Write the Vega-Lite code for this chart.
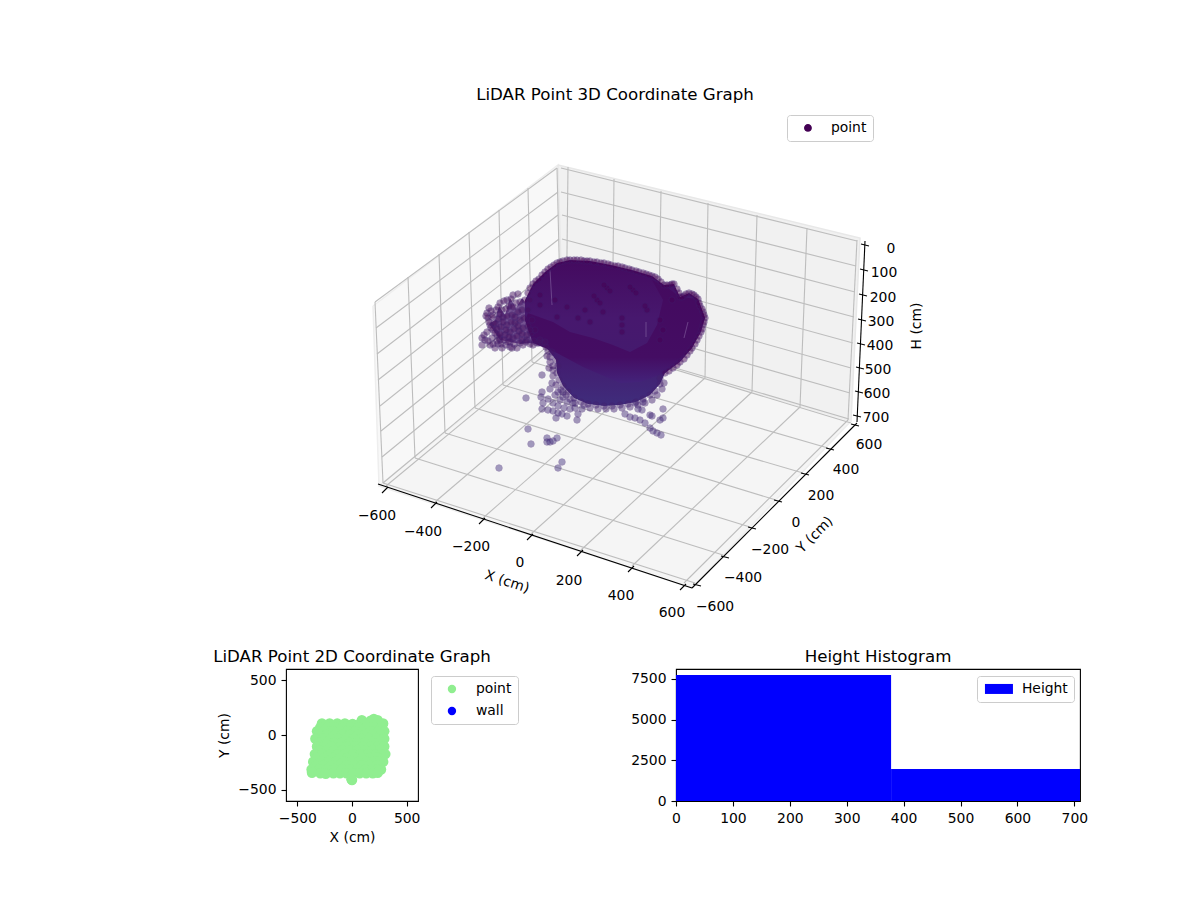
{
  "$schema": "https://vega.github.io/schema/vega-lite/v6.json",
  "padding": {"left": 212, "top": 80, "right": 0, "bottom": 0},
  "background": "white",
  "bounds": "flush",
  "spacing": 29,
  "config": {
    "font": "DejaVu Sans",
    "view": {"stroke": "black", "strokeWidth": 1.1},
    "axis": {"domain": false, "grid": false, "tickColor": "black", "tickSize": 5, "tickWidth": 1.1, "labelColor": "black", "labelFontSize": 13.9, "labelPadding": 5, "labelFlush": false, "titleFontSize": 13.9, "titleFontWeight": "normal", "titleColor": "black", "titlePadding": 6, "labelExpr": "replace(datum.label, '-', '−')"},
    "title": {"fontSize": 16.67, "fontWeight": "normal", "color": "black", "anchor": "middle", "offset": 3},
    "legend": {"labelFontSize": 13.9, "labelColor": "black", "strokeColor": "#cccccc", "fillColor": "white", "cornerRadius": 3, "padding": 6}
  },
  "datasets": {
    "paneLeft": [{"i":0,"u":373,"v":306},{"i":1,"u":558,"v":165},{"i":2,"u":563,"v":336},{"i":3,"u":379,"v":486},{"i":4,"u":373,"v":306}],
    "paneBack": [{"i":0,"u":558,"v":165},{"i":1,"u":860,"v":238},{"i":2,"u":851,"v":421},{"i":3,"u":563,"v":336},{"i":4,"u":558,"v":165}],
    "paneFloor": [{"i":0,"u":379,"v":486},{"i":1,"u":563,"v":336},{"i":2,"u":851,"v":421},{"i":3,"u":692,"v":588},{"i":4,"u":379,"v":486}],
    "grid": [
      {"u":375,"v":302,"u2":383,"v2":483},{"u":408,"v":277,"u2":415,"v2":458},{"u":439,"v":254,"u2":445,"v2":433},{"u":469,"v":232,"u2":475,"v2":408},{"u":499,"v":210,"u2":503,"v2":385},{"u":528,"v":188,"u2":532,"v2":362},{"u":557,"v":168,"u2":561,"v2":335},
      {"u":375,"v":302,"u2":557,"v2":168},{"u":376,"v":328,"u2":558,"v2":192},{"u":377,"v":354,"u2":558,"v2":215},{"u":378,"v":380,"u2":559,"v2":239},{"u":380,"v":406,"u2":559,"v2":263},{"u":381,"v":431,"u2":560,"v2":287},{"u":382,"v":457,"u2":560,"v2":311},{"u":383,"v":483,"u2":561,"v2":335},
      {"u":568,"v":167,"u2":566,"v2":337},{"u":614,"v":179,"u2":612,"v2":351},{"u":661,"v":191,"u2":658,"v2":365},{"u":708,"v":203,"u2":705,"v2":378},{"u":757,"v":215,"u2":752,"v2":392},{"u":807,"v":228,"u2":800,"v2":407},{"u":857,"v":240,"u2":848,"v2":420},
      {"u":561,"v":168,"u2":857,"v2":241},{"u":561,"v":192,"u2":856,"v2":266},{"u":562,"v":215,"u2":855,"v2":292},{"u":562,"v":239,"u2":854,"v2":317},{"u":562,"v":263,"u2":853,"v2":343},{"u":563,"v":287,"u2":851,"v2":368},{"u":563,"v":311,"u2":850,"v2":393},{"u":563,"v":335,"u2":849,"v2":419},
      {"u":386,"v":486,"u2":566,"v2":337},{"u":435,"v":502,"u2":612,"v2":351},{"u":483,"v":518,"u2":658,"v2":365},{"u":531,"v":534,"u2":705,"v2":378},{"u":581,"v":550,"u2":752,"v2":392},{"u":632,"v":566,"u2":800,"v2":407},{"u":684,"v":583,"u2":848,"v2":420},
      {"u":383,"v":483,"u2":695,"v2":583},{"u":415,"v":458,"u2":723,"v2":555},{"u":445,"v":433,"u2":750,"v2":527},{"u":475,"v":408,"u2":776,"v2":500},{"u":503,"v":385,"u2":803,"v2":473},{"u":532,"v":362,"u2":828,"v2":448},{"u":561,"v":335,"u2":851,"v2":423}
    ],
    "axisLines": [
      {"u":378,"v":484,"u2":692,"v2":588},{"u":692,"v":588,"u2":857,"v2":423},{"u":865,"v":241,"u2":857,"v2":422},
      {"u":382,"v":493,"u2":388,"v2":487},{"u":431,"v":508,"u2":437,"v2":502},{"u":479,"v":524,"u2":485,"v2":518},{"u":527,"v":540,"u2":533,"v2":534},{"u":577,"v":556,"u2":583,"v2":550},{"u":628,"v":572,"u2":634,"v2":566},{"u":680,"v":590,"u2":686,"v2":584},
      {"u":693,"v":584,"u2":701,"v2":586},{"u":721,"v":556,"u2":729,"v2":558},{"u":748,"v":527,"u2":756,"v2":529},{"u":774,"v":500,"u2":782,"v2":502},{"u":801,"v":473,"u2":809,"v2":475},{"u":826,"v":448,"u2":834,"v2":450},{"u":851,"v":424,"u2":859,"v2":426},
      {"u":861,"v":244,"u2":869,"v2":246},{"u":860,"v":269,"u2":868,"v2":271},{"u":859,"v":294,"u2":867,"v2":296},{"u":858,"v":319,"u2":866,"v2":321},{"u":857,"v":343,"u2":865,"v2":345},{"u":856,"v":367,"u2":864,"v2":369},{"u":855,"v":391,"u2":863,"v2":393},{"u":853,"v":415,"u2":861,"v2":417}
    ],
    "tickLabels": [
      {"u":377,"v":516,"t":"−600"},{"u":423,"v":532,"t":"−400"},{"u":471,"v":547,"t":"−200"},{"u":520,"v":563,"t":"0"},{"u":569,"v":581,"t":"200"},{"u":621,"v":596,"t":"400"},{"u":672,"v":613,"t":"600"},
      {"u":869,"v":445,"t":"600"},{"u":846,"v":470,"t":"400"},{"u":821,"v":496,"t":"200"},{"u":796,"v":523,"t":"0"},{"u":770,"v":550,"t":"−200"},{"u":743,"v":578,"t":"−400"},{"u":715,"v":607,"t":"−600"},
      {"u":891,"v":249,"t":"0"},{"u":884,"v":273,"t":"100"},{"u":883,"v":298,"t":"200"},{"u":881,"v":322,"t":"300"},{"u":880,"v":346,"t":"400"},{"u":878,"v":370,"t":"500"},{"u":877,"v":394,"t":"600"},{"u":876,"v":418,"t":"700"}
    ],
    "cloudFingers": [
      {"i":0,"u":489,"v":324},{"i":1,"u":495,"v":320},{"i":2,"u":499,"v":306},{"i":3,"u":505,"v":315},{"i":4,"u":510,"v":298},{"i":5,"u":516,"v":308},{"i":6,"u":522,"v":298},{"i":7,"u":532,"v":310},{"i":8,"u":542,"v":342},{"i":9,"u":520,"v":344},{"i":10,"u":500,"v":340},{"i":11,"u":489,"v":324}
    ],
    "cloudOutline": [
      {"i":0,"u":525,"v":300},{"i":1,"u":533,"v":284},{"i":2,"u":545,"v":272},{"i":3,"u":557,"v":263},{"i":4,"u":570,"v":260},{"i":5,"u":590,"v":261},{"i":6,"u":611,"v":265},{"i":7,"u":632,"v":270},{"i":8,"u":652,"v":276},{"i":9,"u":664,"v":285},{"i":10,"u":674,"v":284},{"i":11,"u":680,"v":297},{"i":12,"u":689,"v":293},{"i":13,"u":698,"v":299},{"i":14,"u":705,"v":318},{"i":15,"u":701,"v":332},{"i":16,"u":692,"v":348},{"i":17,"u":680,"v":362},{"i":18,"u":665,"v":373},{"i":19,"u":660,"v":384},{"i":20,"u":650,"v":395},{"i":21,"u":636,"v":402},{"i":22,"u":620,"v":405},{"i":23,"u":604,"v":406},{"i":24,"u":588,"v":404},{"i":25,"u":574,"v":398},{"i":26,"u":563,"v":386},{"i":27,"u":557,"v":373},{"i":28,"u":556,"v":360},{"i":29,"u":546,"v":347},{"i":30,"u":530,"v":335},{"i":31,"u":525,"v":320},{"i":32,"u":525,"v":300}
    ],
    "cloudBand": [
      {"i":0,"u":528,"v":313},{"i":1,"u":553,"v":322},{"i":2,"u":570,"v":332},{"i":3,"u":593,"v":338},{"i":4,"u":613,"v":345},{"i":5,"u":630,"v":352},{"i":6,"u":647,"v":343},{"i":7,"u":657,"v":325},{"i":8,"u":663,"v":300},{"i":9,"u":652,"v":280},{"i":10,"u":664,"v":285},{"i":11,"u":680,"v":297},{"i":12,"u":698,"v":299},{"i":13,"u":705,"v":318},{"i":14,"u":692,"v":348},{"i":15,"u":665,"v":373},{"i":16,"u":640,"v":382},{"i":17,"u":620,"v":383},{"i":18,"u":583,"v":367},{"i":19,"u":557,"v":353},{"i":20,"u":533,"v":343},{"i":21,"u":525,"v":320},{"i":22,"u":528,"v":313}
    ],
    "streaks": [
      {"u":550,"v":270,"u2":552,"v2":305},{"u":646,"v":322,"u2":646,"v2":337},{"u":688,"v":322,"u2":684,"v2":338}
    ],
    "points": [
      {"u":525,"v":300,"h":150},{"u":528,"v":293,"h":130},{"u":533,"v":284,"h":120},{"u":539,"v":279,"h":110},{"u":545,"v":272,"h":100},{"u":551,"v":267,"h":100},{"u":557,"v":263,"h":100},{"u":563,"v":261,"h":100},{"u":570,"v":260,"h":100},{"u":577,"v":260,"h":100},{"u":584,"v":261,"h":100},{"u":590,"v":261,"h":100},{"u":597,"v":262,"h":100},{"u":604,"v":263,"h":100},{"u":611,"v":265,"h":100},{"u":618,"v":266,"h":100},{"u":625,"v":268,"h":100},{"u":632,"v":270,"h":100},{"u":639,"v":272,"h":100},{"u":646,"v":274,"h":100},{"u":652,"v":276,"h":100},{"u":658,"v":279,"h":100},{"u":664,"v":285,"h":100},{"u":670,"v":285,"h":100},{"u":674,"v":284,"h":100},{"u":677,"v":289,"h":100},{"u":680,"v":297,"h":100},{"u":684,"v":296,"h":100},{"u":689,"v":293,"h":100},{"u":694,"v":295,"h":100},{"u":698,"v":299,"h":100},{"u":700,"v":306,"h":100},{"u":703,"v":312,"h":100},{"u":705,"v":318,"h":100},{"u":703,"v":325,"h":100},{"u":701,"v":332,"h":100},{"u":697,"v":340,"h":100},{"u":692,"v":348,"h":100},{"u":687,"v":355,"h":100},{"u":680,"v":362,"h":100},{"u":673,"v":368,"h":120},{"u":665,"v":373,"h":150},
      {"u":530,"v":288,"h":110},{"u":536,"v":281,"h":110},{"u":542,"v":275,"h":100},{"u":548,"v":269,"h":100},{"u":554,"v":265,"h":100},{"u":560,"v":262,"h":100},{"u":567,"v":260,"h":100},{"u":574,"v":260,"h":100},{"u":581,"v":260,"h":100},{"u":587,"v":261,"h":100},{"u":594,"v":262,"h":100},{"u":601,"v":263,"h":100},{"u":608,"v":264,"h":100},{"u":615,"v":266,"h":100},{"u":622,"v":267,"h":100},{"u":629,"v":269,"h":100},{"u":636,"v":271,"h":100},{"u":643,"v":273,"h":100},{"u":649,"v":275,"h":100},{"u":655,"v":277,"h":100},{"u":661,"v":282,"h":100},{"u":667,"v":285,"h":100},{"u":672,"v":284,"h":100},{"u":679,"v":293,"h":100},{"u":682,"v":297,"h":100},{"u":686,"v":294,"h":100},{"u":692,"v":294,"h":100},{"u":696,"v":297,"h":100},{"u":699,"v":303,"h":100},{"u":702,"v":309,"h":100},{"u":704,"v":315,"h":100},{"u":704,"v":322,"h":100},{"u":702,"v":329,"h":100},{"u":699,"v":336,"h":100},{"u":695,"v":344,"h":100},{"u":690,"v":351,"h":100},{"u":684,"v":359,"h":100},{"u":677,"v":365,"h":100},{"u":669,"v":371,"h":130},
      {"u":660,"v":378,"h":400},{"u":660,"v":384,"h":400},{"u":655,"v":391,"h":420},{"u":650,"v":395,"h":420},{"u":643,"v":399,"h":430},{"u":636,"v":402,"h":440},{"u":628,"v":404,"h":450},{"u":620,"v":405,"h":450},{"u":612,"v":406,"h":460},{"u":604,"v":406,"h":460},{"u":596,"v":405,"h":460},{"u":588,"v":404,"h":460},{"u":581,"v":402,"h":450},{"u":574,"v":398,"h":440},{"u":568,"v":392,"h":420},{"u":563,"v":386,"h":400},{"u":559,"v":380,"h":390},{"u":557,"v":373,"h":370},{"u":558,"v":366,"h":350},{"u":556,"v":360,"h":330},{"u":552,"v":352,"h":300},{"u":546,"v":347,"h":280},{"u":539,"v":343,"h":270},
      {"u":553,"v":370,"h":360},{"u":553,"v":376,"h":380},{"u":549,"v":368,"h":360},{"u":556,"v":385,"h":400},{"u":561,"v":390,"h":410},{"u":566,"v":395,"h":430},{"u":570,"v":399,"h":440},{"u":575,"v":403,"h":450},{"u":584,"v":405,"h":460},{"u":590,"v":408,"h":470},{"u":598,"v":409,"h":470},{"u":606,"v":409,"h":470},{"u":614,"v":409,"h":470},{"u":622,"v":408,"h":470},{"u":630,"v":407,"h":470},{"u":638,"v":405,"h":460},{"u":645,"v":403,"h":450},{"u":652,"v":400,"h":440},{"u":657,"v":395,"h":430},{"u":662,"v":389,"h":420},{"u":664,"v":383,"h":410},
      {"u":607,"v":288,"h":100},{"u":610,"v":291,"h":100},{"u":604,"v":285,"h":100},{"u":633,"v":290,"h":100},{"u":636,"v":293,"h":100},{"u":630,"v":287,"h":100},{"u":647,"v":310,"h":100},{"u":645,"v":306,"h":100},{"u":597,"v":300,"h":100},{"u":594,"v":296,"h":100},{"u":600,"v":303,"h":100},{"u":567,"v":307,"h":100},{"u":557,"v":317,"h":100},{"u":585,"v":310,"h":100},{"u":578,"v":318,"h":100},{"u":622,"v":325,"h":100},{"u":622,"v":332,"h":100},{"u":622,"v":318,"h":100},{"u":555,"v":300,"h":100},{"u":540,"v":295,"h":100},{"u":540,"v":305,"h":100},{"u":660,"v":320,"h":100},{"u":663,"v":330,"h":100},{"u":660,"v":340,"h":100},{"u":672,"v":300,"h":100},{"u":590,"v":322,"h":100},{"u":603,"v":312,"h":100},
      {"u":487,"v":313,"h":200},{"u":488,"v":318,"h":200},{"u":490,"v":325,"h":200},{"u":493,"v":330,"h":200},{"u":497,"v":335,"h":200},{"u":500,"v":340,"h":200},{"u":500,"v":303,"h":200},{"u":502,"v":310,"h":200},{"u":503,"v":317,"h":200},{"u":507,"v":325,"h":200},{"u":510,"v":332,"h":200},{"u":513,"v":338,"h":200},{"u":513,"v":295,"h":200},{"u":516,"v":303,"h":200},{"u":518,"v":312,"h":200},{"u":520,"v":320,"h":200},{"u":523,"v":328,"h":200},{"u":527,"v":335,"h":200},{"u":507,"v":300,"h":200},{"u":509,"v":306,"h":200},{"u":512,"v":315,"h":200},{"u":515,"v":323,"h":200},{"u":519,"v":331,"h":200},{"u":496,"v":310,"h":200},{"u":498,"v":319,"h":200},{"u":501,"v":327,"h":200},{"u":505,"v":335,"h":200},{"u":510,"v":342,"h":200},{"u":489,"v":308,"h":200},{"u":493,"v":315,"h":200},{"u":496,"v":324,"h":200},
      {"u":486,"v":316,"h":200},{"u":489,"v":322,"h":200},{"u":491,"v":328,"h":200},{"u":495,"v":333,"h":200},{"u":499,"v":338,"h":200},{"u":491,"v":311,"h":200},{"u":492,"v":317,"h":200},{"u":494,"v":323,"h":200},{"u":497,"v":329,"h":200},{"u":500,"v":334,"h":200},{"u":504,"v":340,"h":200},{"u":504,"v":301,"h":200},{"u":506,"v":309,"h":200},{"u":507,"v":316,"h":200},{"u":511,"v":322,"h":200},{"u":514,"v":329,"h":200},{"u":517,"v":336,"h":200},{"u":498,"v":307,"h":200},{"u":500,"v":314,"h":200},{"u":503,"v":322,"h":200},{"u":506,"v":330,"h":200},{"u":509,"v":337,"h":200},{"u":518,"v":294,"h":200},{"u":520,"v":302,"h":200},{"u":522,"v":310,"h":200},{"u":524,"v":318,"h":200},{"u":528,"v":326,"h":200},{"u":531,"v":333,"h":200},{"u":511,"v":299,"h":200},{"u":513,"v":307,"h":200},{"u":515,"v":317,"h":200},{"u":518,"v":326,"h":200},{"u":522,"v":334,"h":200},{"u":530,"v":300,"h":200},{"u":528,"v":310,"h":200},{"u":532,"v":320,"h":200},{"u":535,"v":330,"h":200},{"u":522,"v":340,"h":200},{"u":530,"v":330,"h":200},
      {"u":482,"v":338,"h":280},{"u":482,"v":345,"h":280},{"u":487,"v":332,"h":280},{"u":485,"v":340,"h":280},{"u":490,"v":345,"h":280},{"u":492,"v":338,"h":280},{"u":495,"v":348,"h":280},{"u":498,"v":344,"h":280},{"u":502,"v":348,"h":280},{"u":506,"v":345,"h":280},{"u":510,"v":347,"h":280},{"u":514,"v":344,"h":280},{"u":517,"v":348,"h":280},{"u":520,"v":343,"h":280},{"u":523,"v":345,"h":280},{"u":527,"v":340,"h":280},{"u":530,"v":344,"h":280},{"u":534,"v":341,"h":280},{"u":537,"v":343,"h":280},{"u":542,"v":343,"h":280},{"u":550,"v":357,"h":340},{"u":550,"v":362,"h":340},{"u":553,"v":366,"h":350},{"u":484,"v":335,"h":280},{"u":488,"v":341,"h":280},{"u":493,"v":344,"h":280},{"u":497,"v":341,"h":280},{"u":501,"v":344,"h":280},{"u":508,"v":342,"h":280},{"u":512,"v":348,"h":280},{"u":526,"v":342,"h":280},{"u":533,"v":345,"h":280},{"u":540,"v":340,"h":280},{"u":545,"v":342,"h":280},{"u":548,"v":351,"h":300},{"u":547,"v":356,"h":320},
      {"u":542,"v":375,"h":500},{"u":552,"v":383,"h":500},{"u":542,"v":392,"h":520},{"u":526,"v":398,"h":620},{"u":550,"v":389,"h":520},{"u":541,"v":397,"h":540},{"u":543,"v":403,"h":560},{"u":542,"v":409,"h":580},{"u":548,"v":410,"h":580},{"u":553,"v":411,"h":590},{"u":558,"v":413,"h":590},{"u":562,"v":414,"h":590},{"u":567,"v":416,"h":600},{"u":556,"v":418,"h":600},{"u":577,"v":420,"h":600},{"u":578,"v":414,"h":580},{"u":563,"v":392,"h":520},{"u":555,"v":395,"h":530},{"u":560,"v":400,"h":540},{"u":567,"v":402,"h":550},{"u":573,"v":403,"h":560},{"u":548,"v":399,"h":540},{"u":553,"v":403,"h":550},{"u":558,"v":406,"h":560},{"u":564,"v":408,"h":570},{"u":570,"v":409,"h":570},{"u":575,"v":408,"h":570},{"u":582,"v":409,"h":570},{"u":558,"v":392,"h":520},{"u":563,"v":397,"h":530},
      {"u":528,"v":429,"h":660},{"u":531,"v":444,"h":680},{"u":547,"v":438,"h":680},{"u":557,"v":438,"h":680},{"u":547,"v":442,"h":680},{"u":550,"v":442,"h":680},{"u":553,"v":441,"h":680},{"u":562,"v":462,"h":700},{"u":558,"v":468,"h":700},{"u":499,"v":468,"h":700},
      {"u":663,"v":409,"h":600},{"u":663,"v":418,"h":620},{"u":660,"v":420,"h":620},{"u":650,"v":415,"h":600},{"u":652,"v":416,"h":600},{"u":642,"v":410,"h":590},{"u":638,"v":409,"h":590},{"u":635,"v":403,"h":570},{"u":643,"v":402,"h":570},{"u":625,"v":414,"h":590},{"u":630,"v":417,"h":600},{"u":635,"v":418,"h":600},{"u":640,"v":420,"h":600},{"u":645,"v":423,"h":610},{"u":650,"v":428,"h":620},{"u":653,"v":431,"h":630},{"u":657,"v":433,"h":630},{"u":661,"v":435,"h":640}
    ],
    "map2d": [
      {"x":-275,"y":105,"kind":"point"},{"x":-205,"y":105,"kind":"point"},{"x":-135,"y":105,"kind":"point"},{"x":-65,"y":105,"kind":"point"},{"x":5,"y":100,"kind":"point"},{"x":75,"y":105,"kind":"point"},{"x":145,"y":105,"kind":"point"},{"x":215,"y":105,"kind":"point"},{"x":285,"y":105,"kind":"point"},{"x":90,"y":135,"kind":"point"},{"x":170,"y":130,"kind":"point"},{"x":200,"y":146,"kind":"point"},{"x":235,"y":135,"kind":"point"},
      {"x":-290,"y":70,"kind":"point"},{"x":-220,"y":70,"kind":"point"},{"x":-150,"y":70,"kind":"point"},{"x":-80,"y":70,"kind":"point"},{"x":-10,"y":70,"kind":"point"},{"x":60,"y":70,"kind":"point"},{"x":130,"y":70,"kind":"point"},{"x":200,"y":70,"kind":"point"},{"x":270,"y":70,"kind":"point"},
      {"x":-320,"y":35,"kind":"point"},{"x":-250,"y":35,"kind":"point"},{"x":-180,"y":35,"kind":"point"},{"x":-110,"y":35,"kind":"point"},{"x":-40,"y":35,"kind":"point"},{"x":30,"y":35,"kind":"point"},{"x":100,"y":35,"kind":"point"},{"x":170,"y":35,"kind":"point"},{"x":240,"y":35,"kind":"point"},{"x":295,"y":35,"kind":"point"},
      {"x":-300,"y":0,"kind":"point"},{"x":-230,"y":0,"kind":"point"},{"x":-160,"y":0,"kind":"point"},{"x":-90,"y":0,"kind":"point"},{"x":-20,"y":0,"kind":"point"},{"x":50,"y":0,"kind":"point"},{"x":120,"y":0,"kind":"point"},{"x":190,"y":0,"kind":"point"},{"x":260,"y":0,"kind":"point"},
      {"x":-335,"y":-35,"kind":"point"},{"x":-265,"y":-35,"kind":"point"},{"x":-195,"y":-35,"kind":"point"},{"x":-125,"y":-35,"kind":"point"},{"x":-55,"y":-35,"kind":"point"},{"x":15,"y":-35,"kind":"point"},{"x":85,"y":-35,"kind":"point"},{"x":155,"y":-35,"kind":"point"},{"x":225,"y":-35,"kind":"point"},{"x":295,"y":-35,"kind":"point"},
      {"x":-300,"y":-70,"kind":"point"},{"x":-230,"y":-70,"kind":"point"},{"x":-160,"y":-70,"kind":"point"},{"x":-90,"y":-70,"kind":"point"},{"x":-20,"y":-70,"kind":"point"},{"x":50,"y":-70,"kind":"point"},{"x":120,"y":-70,"kind":"point"},{"x":190,"y":-70,"kind":"point"},{"x":260,"y":-70,"kind":"point"},
      {"x":-320,"y":-105,"kind":"point"},{"x":-250,"y":-105,"kind":"point"},{"x":-180,"y":-105,"kind":"point"},{"x":-110,"y":-105,"kind":"point"},{"x":-40,"y":-105,"kind":"point"},{"x":30,"y":-105,"kind":"point"},{"x":100,"y":-105,"kind":"point"},{"x":170,"y":-105,"kind":"point"},{"x":240,"y":-105,"kind":"point"},{"x":295,"y":-105,"kind":"point"},
      {"x":-300,"y":-140,"kind":"point"},{"x":-230,"y":-140,"kind":"point"},{"x":-160,"y":-140,"kind":"point"},{"x":-90,"y":-140,"kind":"point"},{"x":-20,"y":-140,"kind":"point"},{"x":50,"y":-140,"kind":"point"},{"x":120,"y":-140,"kind":"point"},{"x":190,"y":-140,"kind":"point"},{"x":260,"y":-140,"kind":"point"},
      {"x":-340,"y":-175,"kind":"point"},{"x":-270,"y":-175,"kind":"point"},{"x":-200,"y":-175,"kind":"point"},{"x":-130,"y":-175,"kind":"point"},{"x":-60,"y":-175,"kind":"point"},{"x":10,"y":-175,"kind":"point"},{"x":80,"y":-175,"kind":"point"},{"x":150,"y":-175,"kind":"point"},{"x":220,"y":-175,"kind":"point"},{"x":305,"y":-175,"kind":"point"},{"x":265,"y":-175,"kind":"point"},
      {"x":-320,"y":-210,"kind":"point"},{"x":-250,"y":-210,"kind":"point"},{"x":-180,"y":-210,"kind":"point"},{"x":-110,"y":-210,"kind":"point"},{"x":-40,"y":-210,"kind":"point"},{"x":30,"y":-210,"kind":"point"},{"x":100,"y":-210,"kind":"point"},{"x":170,"y":-210,"kind":"point"},{"x":240,"y":-210,"kind":"point"},
      {"x":-355,"y":-245,"kind":"point"},{"x":-285,"y":-245,"kind":"point"},{"x":-215,"y":-245,"kind":"point"},{"x":-145,"y":-245,"kind":"point"},{"x":-75,"y":-245,"kind":"point"},{"x":-5,"y":-245,"kind":"point"},{"x":65,"y":-245,"kind":"point"},{"x":135,"y":-245,"kind":"point"},{"x":205,"y":-245,"kind":"point"},{"x":285,"y":-245,"kind":"point"},{"x":250,"y":-245,"kind":"point"},
      {"x":-330,"y":-280,"kind":"point"},{"x":-260,"y":-280,"kind":"point"},{"x":-190,"y":-280,"kind":"point"},{"x":-120,"y":-280,"kind":"point"},{"x":-50,"y":-280,"kind":"point"},{"x":20,"y":-280,"kind":"point"},{"x":90,"y":-280,"kind":"point"},{"x":160,"y":-280,"kind":"point"},{"x":230,"y":-280,"kind":"point"},
      {"x":-370,"y":-315,"kind":"point"},{"x":-300,"y":-315,"kind":"point"},{"x":-230,"y":-315,"kind":"point"},{"x":-160,"y":-315,"kind":"point"},{"x":-90,"y":-315,"kind":"point"},{"x":-20,"y":-315,"kind":"point"},{"x":50,"y":-315,"kind":"point"},{"x":120,"y":-315,"kind":"point"},{"x":190,"y":-315,"kind":"point"},{"x":265,"y":-315,"kind":"point"},{"x":230,"y":-315,"kind":"point"},
      {"x":-366,"y":-345,"kind":"point"},{"x":-290,"y":-350,"kind":"point"},{"x":-240,"y":-355,"kind":"point"},{"x":-170,"y":-350,"kind":"point"},{"x":-110,"y":-350,"kind":"point"},{"x":-50,"y":-350,"kind":"point"},{"x":10,"y":-350,"kind":"point"},{"x":70,"y":-350,"kind":"point"},{"x":130,"y":-350,"kind":"point"},{"x":190,"y":-350,"kind":"point"},{"x":235,"y":-345,"kind":"point"},{"x":0,"y":-412,"kind":"point"},{"x":-5,"y":-405,"kind":"point"}
    ],
    "hist": [
      {"start":0,"end":378,"count":7744,"series":"Height"},
      {"start":378,"end":710,"count":1967,"series":"Height"}
    ]
  },
  "vconcat": [
    {
      "width": 900,
      "height": 560,
      "view": {"stroke": null},
      "encoding": {
        "x": {"field": "u", "type": "quantitative", "scale": {"domain": [286, 1186], "nice": false, "zero": false}, "axis": null},
        "y": {"field": "v", "type": "quantitative", "scale": {"domain": [640, 80], "nice": false, "zero": false}, "axis": null}
      },
      "layer": [
        {"data": {"name": "paneLeft"}, "mark": {"type": "line", "fill": "#f8f8f8", "stroke": "#eeeeee", "strokeWidth": 1.5}, "encoding": {"order": {"field": "i"}}},
        {"data": {"name": "paneBack"}, "mark": {"type": "line", "fill": "#f1f1f1", "stroke": "#e8e8e8", "strokeWidth": 1.5}, "encoding": {"order": {"field": "i"}}},
        {"data": {"name": "paneFloor"}, "mark": {"type": "line", "fill": "#f5f5f5", "stroke": "#eeeeee", "strokeWidth": 1.5}, "encoding": {"order": {"field": "i"}}},
        {"data": {"name": "grid"}, "mark": {"type": "rule", "color": "#bdbdbd", "strokeWidth": 1.1}, "encoding": {"x2": {"field": "u2"}, "y2": {"field": "v2"}}},
        {"data": {"name": "axisLines"}, "mark": {"type": "rule", "color": "black", "strokeWidth": 1.1}, "encoding": {"x2": {"field": "u2"}, "y2": {"field": "v2"}}},
        {"data": {"name": "tickLabels"}, "mark": {"type": "text", "fontSize": 13.9, "color": "black", "align": "center", "baseline": "middle"}, "encoding": {"text": {"field": "t"}}},
        {"data": {"values": [{"u": 507, "v": 582, "t": "X (cm)"}]}, "mark": {"type": "text", "fontSize": 13.9, "color": "black", "angle": 18, "align": "center", "baseline": "middle"}, "encoding": {"text": {"field": "t"}}},
        {"data": {"values": [{"u": 815, "v": 535, "t": "Y (cm)"}]}, "mark": {"type": "text", "fontSize": 13.9, "color": "black", "angle": 315, "align": "center", "baseline": "middle"}, "encoding": {"text": {"field": "t"}}},
        {"data": {"values": [{"u": 917, "v": 326, "t": "H (cm)"}]}, "mark": {"type": "text", "fontSize": 13.9, "color": "black", "angle": 270, "align": "center", "baseline": "middle"}, "encoding": {"text": {"field": "t"}}},
        {"data": {"values": [{"u": 615, "v": 95, "t": "LiDAR Point 3D Coordinate Graph"}]}, "mark": {"type": "text", "fontSize": 16.67, "color": "black", "align": "center", "baseline": "middle"}, "encoding": {"text": {"field": "t"}}},
        {"data": {"name": "cloudFingers"}, "mark": {"type": "line", "stroke": null, "fill": "#4a1c6f", "opacity": 0.75}, "encoding": {"order": {"field": "i"}}},
        {"data": {"name": "cloudOutline"}, "mark": {"type": "line", "stroke": null, "fill": {"gradient": "linear", "x1": 0, "y1": 0, "x2": 0, "y2": 1, "stops": [{"offset": 0, "color": "#440a5f"}, {"offset": 0.4, "color": "#47186e"}, {"offset": 0.65, "color": "#441a6e"}, {"offset": 1, "color": "#3f2d7c"}]}}, "encoding": {"order": {"field": "i"}}},
        {"data": {"name": "cloudBand"}, "mark": {"type": "line", "stroke": null, "fill": {"gradient": "linear", "x1": 0, "y1": 0, "x2": 0, "y2": 1, "stops": [{"offset": 0, "color": "#440a5f"}, {"offset": 0.75, "color": "#440d63"}, {"offset": 1, "color": "#43237a"}]}}, "encoding": {"order": {"field": "i"}}},
        {"data": {"name": "streaks"}, "mark": {"type": "rule", "color": "#a58fc0", "strokeWidth": 1, "opacity": 0.4}, "encoding": {"x2": {"field": "u2"}, "y2": {"field": "v2"}}},
        {
          "data": {"name": "points"},
          "mark": {"type": "point", "filled": true, "size": 42, "opacity": 0.48, "stroke": "#3f1f70", "strokeWidth": 0.8},
          "encoding": {
            "color": {"field": "h", "type": "quantitative", "scale": {"domain": [100, 650], "range": ["#440154", "#46327e"]}, "legend": null},
            "shape": {"datum": "point", "scale": {"domain": ["point"], "range": ["circle"]}, "legend": {"title": null, "orient": "none", "legendX": 501, "legendY": 35, "symbolSize": 40, "symbolType": "circle", "symbolFillColor": "#440154", "symbolStrokeColor": "#440154", "symbolOpacity": 1, "symbolOffset": 8, "labelOffset": 16, "padding": 6}}
          }
        }
      ]
    },
    {
      "hconcat": [
        {
          "title": "LiDAR Point 2D Coordinate Graph",
          "width": 132,
          "height": 132,
          "data": {"name": "map2d"},
          "mark": {"type": "circle", "size": 110, "opacity": 1},
          "encoding": {
            "x": {"field": "x", "type": "quantitative", "scale": {"domain": [-604, 604], "nice": false}, "axis": {"values": [-500, 0, 500], "title": "X (cm)", "format": "d"}},
            "y": {"field": "y", "type": "quantitative", "scale": {"domain": [-604, 604], "nice": false}, "axis": {"values": [-500, 0, 500], "title": "Y (cm)", "format": "d"}},
            "color": {"field": "kind", "type": "nominal", "scale": {"domain": ["point", "wall"], "range": ["lightgreen", "blue"]}, "legend": {"title": null, "orient": "none", "legendX": 145, "legendY": 7, "symbolSize": 70, "symbolType": "circle", "symbolOffset": 8, "labelOffset": 17, "rowPadding": 7}}
          }
        },
        {
          "title": "Height Histogram",
          "width": 404,
          "height": 132,
          "data": {"name": "hist"},
          "mark": {"type": "rect"},
          "encoding": {
            "x": {"field": "start", "type": "quantitative", "scale": {"domain": [0, 710], "nice": false}, "axis": {"values": [0, 100, 200, 300, 400, 500, 600, 700], "title": null, "format": "d"}},
            "x2": {"field": "end"},
            "y": {"field": "count", "type": "quantitative", "scale": {"domain": [0, 8113], "nice": false}, "axis": {"values": [0, 2500, 5000, 7500], "title": null, "format": "d"}},
            "y2": {"datum": 0},
            "color": {"field": "series", "type": "nominal", "scale": {"domain": ["Height"], "range": ["blue"]}, "legend": {"title": null, "orient": "none", "legendX": 301, "legendY": 7, "symbolType": "M-2.8,-1H2.8V1H-2.8Z", "symbolSize": 100, "symbolStrokeWidth": 0, "symbolOffset": 9, "labelOffset": 16}}
          }
        }
      ],
      "bounds": "flush",
      "spacing": 258,
      "resolve": {"scale": {"color": "independent"}}
    }
  ],
  "resolve": {"scale": {"color": "independent", "shape": "independent"}}
}
